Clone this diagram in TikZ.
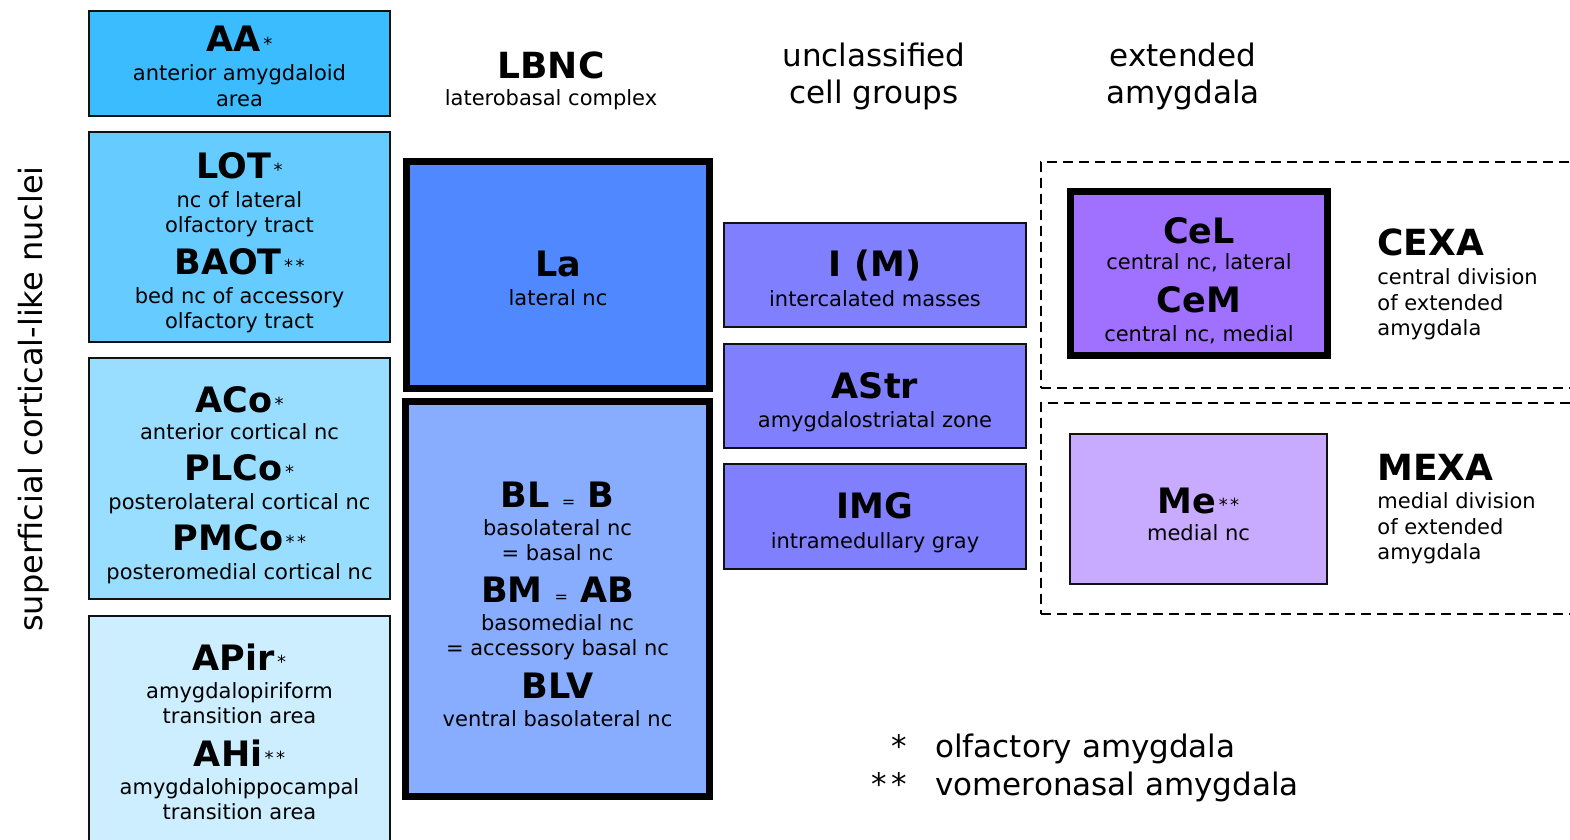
\documentclass[tikz,border=0pt]{standalone}
\usepackage{fontspec}
\setmainfont{DejaVu Sans}
\newcommand\mytitle{\fontsize{17.5}{17.5}\selectfont\bfseries}
\newcommand\mybig{\fontsize{18}{18}\selectfont\bfseries}
\newcommand\mysub{\fontsize{10.5}{10.5}\selectfont}
\newcommand\myhead{\fontsize{15.5}{15.5}\selectfont}
\newcommand\sone{\hspace{1.2pt}\raisebox{0.6pt}{\fontsize{9}{9}\selectfont\mdseries *}}
\newcommand\stwo{\hspace{1.2pt}\raisebox{0.6pt}{\fontsize{9}{9}\selectfont\mdseries *\hspace{1.2pt}*}}
\newcommand\eqs{\hspace{6pt}{\fontsize{8}{8}\selectfont\mdseries =}\hspace{6pt}}
\definecolor{cAA}{HTML}{3ABCFF}
\definecolor{cLOT}{HTML}{66CCFF}
\definecolor{cACo}{HTML}{99DDFF}
\definecolor{cAPir}{HTML}{CCEEFF}
\definecolor{cLa}{HTML}{5088FF}
\definecolor{cBL}{HTML}{88ADFF}
\definecolor{cMid}{HTML}{8080FF}
\definecolor{cCe}{HTML}{A070FF}
\definecolor{cMe}{HTML}{C8AAFF}
\definecolor{edge}{HTML}{111111}
\begin{document}
\begin{tikzpicture}[x=0.5pt,y=-0.5pt,
  box/.style={draw=edge,line width=1.3pt,inner sep=0pt,outer sep=0pt},
  heavybox/.style={draw=black,line width=3.7pt,inner sep=0pt,outer sep=0pt},
  dashbox/.style={draw=black,line width=1.2pt,dash pattern=on 5pt off 3pt,inner sep=0pt},
  txt/.style={inner sep=0pt,anchor=base},
  ltxt/.style={inner sep=0pt,anchor=base west},
  rtxt/.style={inner sep=0pt,anchor=base east}]
\useasboundingbox (0,0) rectangle (1570,840);
\clip (0,0) rectangle (1570,840);
\fill[white] (0,0) rectangle (1570,840);

% dashed groups
\node[dashbox,minimum width=279.5pt,minimum height=113pt] (gCE) at (1320.5,275) {};
\node[dashbox,minimum width=279.5pt,minimum height=105.5pt] (gME) at (1320.5,508.5) {};

% left column boxes
\node[box,fill=cAA,minimum width=150.5pt,minimum height=52.5pt] (AA) at (239.5,63.5) {};
\node[box,fill=cLOT,minimum width=150.5pt,minimum height=105pt] (LOT) at (239.5,237) {};
\node[box,fill=cACo,minimum width=150.5pt,minimum height=120.5pt] (ACo) at (239.5,478.5) {};
\node[box,fill=cAPir,minimum width=150.5pt,minimum height=122pt] (APir) at (239.5,738) {};

% LBNC boxes
\node[heavybox,fill=cLa,minimum width=151.3pt,minimum height=113.3pt] (La) at (558,275) {};
\node[heavybox,fill=cBL,minimum width=151.8pt,minimum height=197.3pt] (BL) at (557.5,599) {};

% middle boxes
\node[box,fill=cMid,minimum width=151pt,minimum height=52pt] (IM) at (875,275) {};
\node[box,fill=cMid,minimum width=151pt,minimum height=52pt] (AStr) at (875,396) {};
\node[box,fill=cMid,minimum width=151pt,minimum height=52.5pt] (IMG) at (875,516.5) {};

% extended amygdala boxes
\node[heavybox,fill=cCe,minimum width=128.3pt,minimum height=81.8pt] (Ce) at (1199,273.5) {};
\node[box,fill=cMe,minimum width=128.5pt,minimum height=75pt] (Me) at (1198.5,509) {};

% rotated label
\node[txt,rotate=90] (sup) at (42,399) {\fontsize{16}{16}\selectfont superficial cortical-like nuclei};

% headers
\node[txt] (hLBNC) at (551,79) {\mybig LBNC};
\node[txt] (hLBNCs) at (551,106) {\mysub laterobasal complex};
\node[txt] (hUn1) at (874,67) {\myhead unclassified};
\node[txt] (hUn2) at (874,104) {\myhead cell groups};
\node[txt] (hEx1) at (1183,67) {\myhead extended};
\node[txt] (hEx2) at (1183,104) {\myhead amygdala};

% AA
\node[txt] (tAA) at (239.5,52) {\mytitle AA\sone};
\node[txt] (sAA1) at (239.5,81) {\mysub anterior amygdaloid};
\node[txt] (sAA2) at (239.5,107) {\mysub area};
% LOT / BAOT
\node[txt] (tLOT) at (239.5,178) {\mytitle LOT\sone};
\node[txt] (sLOT1) at (239.5,207) {\mysub nc of lateral};
\node[txt] (sLOT2) at (239.5,233) {\mysub olfactory tract};
\node[txt] (tBAOT) at (239.5,274) {\mytitle BAOT\stwo};
\node[txt] (sBAOT1) at (239.5,303) {\mysub bed nc of accessory};
\node[txt] (sBAOT2) at (239.5,328) {\mysub olfactory tract};
% ACo / PLCo / PMCo
\node[txt] (tACo) at (239.5,412) {\mytitle ACo\sone};
\node[txt] (sACo) at (239.5,439) {\mysub anterior cortical nc};
\node[txt] (tPLCo) at (239.5,480) {\mytitle PLCo\sone};
\node[txt] (sPLCo) at (239.5,509) {\mysub posterolateral cortical nc};
\node[txt] (tPMCo) at (239.5,550) {\mytitle PMCo\stwo};
\node[txt] (sPMCo) at (239.5,579) {\mysub posteromedial cortical nc};
% APir / AHi
\node[txt] (tAPir) at (239.5,670) {\mytitle APir\sone};
\node[txt] (sAPir1) at (239.5,698) {\mysub amygdalopiriform};
\node[txt] (sAPir2) at (239.5,723) {\mysub transition area};
\node[txt] (tAHi) at (239.5,766) {\mytitle AHi\stwo};
\node[txt] (sAHi1) at (239.5,794) {\mysub amygdalohippocampal};
\node[txt] (sAHi2) at (239.5,819) {\mysub transition area};

% La
\node[txt] (tLa) at (558,277) {\mytitle La};
\node[txt] (sLa) at (558,305) {\mysub lateral nc};
% BL / BM / BLV
\node[txt] (tBL) at (557.5,507) {\mytitle BL\eqs B};
\node[txt] (sBL1) at (557.5,535) {\mysub basolateral nc};
\node[txt] (sBL2) at (557.5,560) {\mysub = basal nc};
\node[txt] (tBM) at (557.5,602) {\mytitle BM\eqs AB};
\node[txt] (sBM1) at (557.5,630) {\mysub basomedial nc};
\node[txt] (sBM2) at (557.5,655) {\mysub = accessory basal nc};
\node[txt] (tBLV) at (557.5,698) {\mytitle BLV};
\node[txt] (sBLV) at (557.5,726) {\mysub ventral basolateral nc};

% middle
\node[txt] (tIM) at (875,277) {\mytitle I (M)};
\node[txt] (sIM) at (875,306) {\mysub intercalated masses};
\node[txt] (tAStr) at (875,398) {\mytitle AStr};
\node[txt] (sAStr) at (875,427) {\mysub amygdalostriatal zone};
\node[txt] (tIMG) at (875,518) {\mytitle IMG};
\node[txt] (sIMG) at (875,548) {\mysub intramedullary gray};

% central
\node[txt] (tCeL) at (1199,243) {\mytitle CeL};
\node[txt] (sCeL) at (1199,270) {\mysub central nc, lateral};
\node[txt] (tCeM) at (1199,312) {\mytitle CeM};
\node[txt] (sCeM) at (1199,341) {\mysub central nc, medial};
% medial
\node[txt] (tMe) at (1198.5,513) {\mytitle Me\stwo};
\node[txt] (sMe) at (1198.5,540) {\mysub medial nc};

% CEXA / MEXA labels
\node[ltxt] (tCEXA) at (1377,256) {\mybig CEXA};
\node[ltxt] (sCEXA1) at (1377,285) {\mysub central division};
\node[ltxt] (sCEXA2) at (1377,310) {\mysub of extended};
\node[ltxt] (sCEXA3) at (1377,335) {\mysub amygdala};
\node[ltxt] (tMEXA) at (1377,480) {\mybig MEXA};
\node[ltxt] (sMEXA1) at (1377,508) {\mysub medial division};
\node[ltxt] (sMEXA2) at (1377,534) {\mysub of extended};
\node[ltxt] (sMEXA3) at (1377,559) {\mysub amygdala};

% legend
\node[rtxt] (k1) at (907,757) {\myhead *};
\node[ltxt] (l1) at (935,757) {\myhead olfactory amygdala};
\node[rtxt] (k2) at (907,795) {\myhead *\hspace{2pt}*};
\node[ltxt] (l2) at (935,795) {\myhead vomeronasal amygdala};
\end{tikzpicture}
\end{document}
